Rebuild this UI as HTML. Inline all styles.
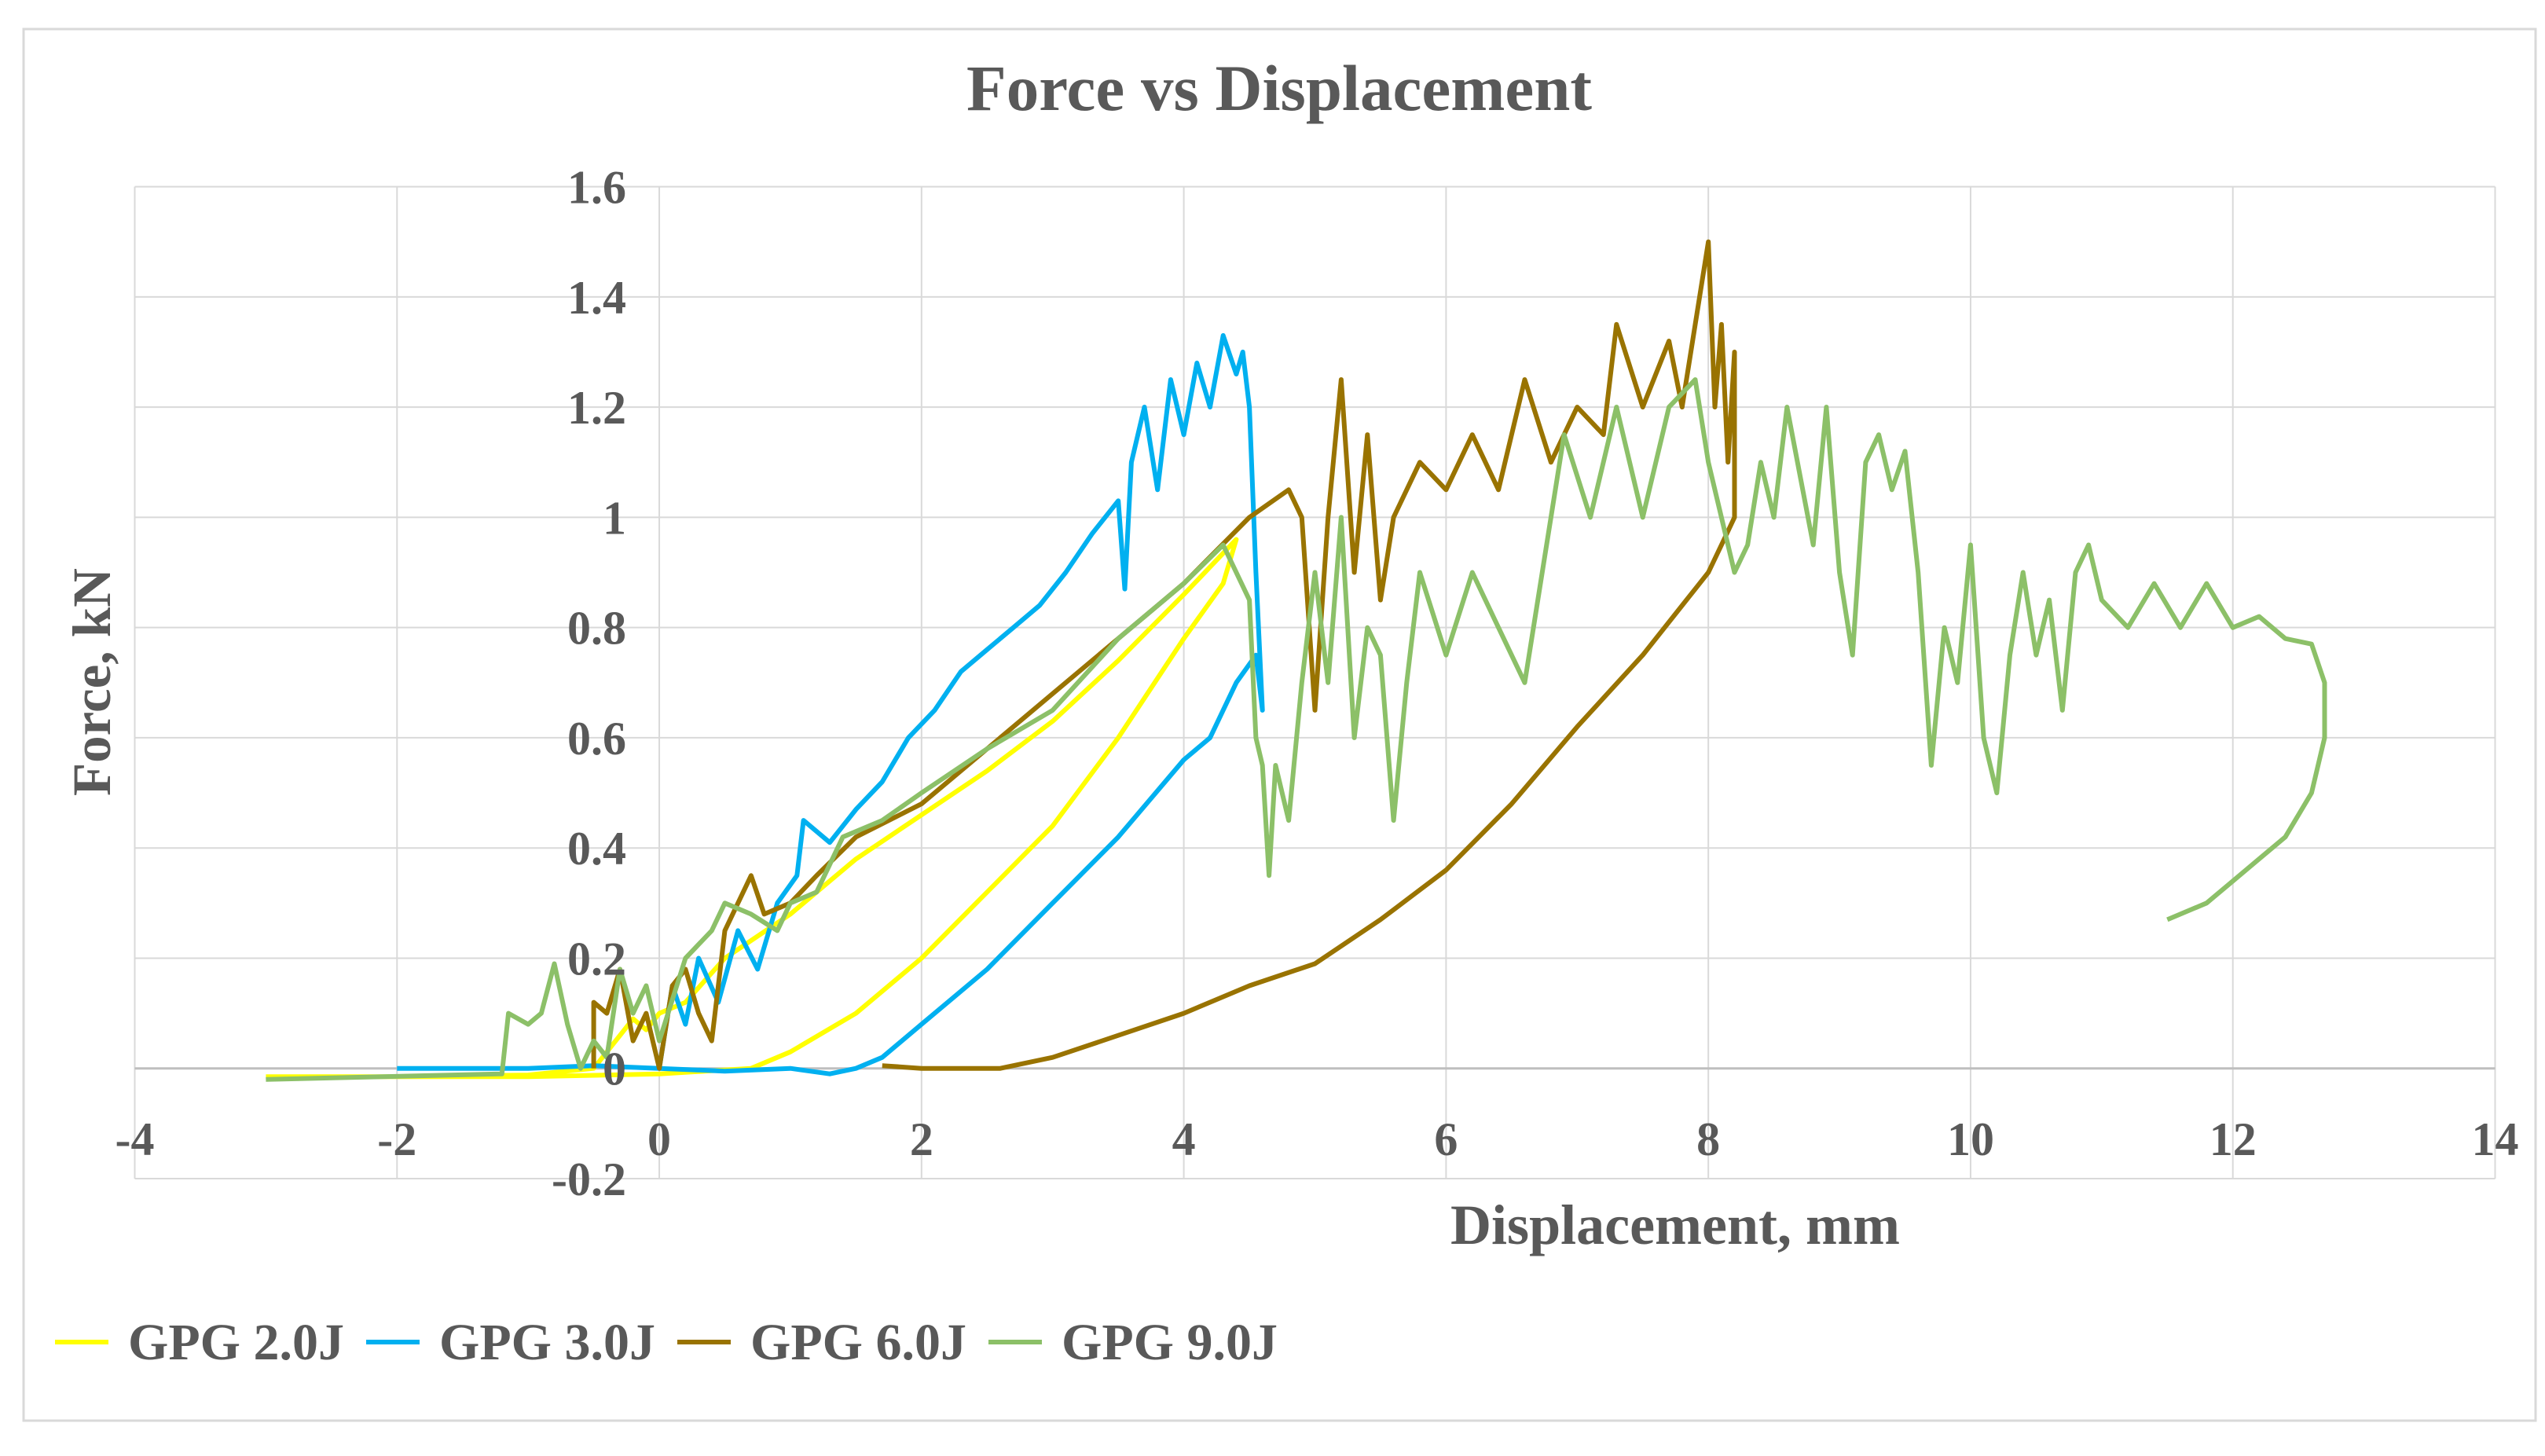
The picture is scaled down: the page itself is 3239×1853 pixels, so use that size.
<!DOCTYPE html>
<html><head><meta charset="utf-8"><style>
body{margin:0;background:#fff;}
svg{display:block;}
text{font-family:"Liberation Serif",serif;fill:#595959;font-weight:bold;}
</style></head><body>
<svg id="chart" width="3239" height="1853" viewBox="0 0 3239 1853" xmlns="http://www.w3.org/2000/svg">
<rect x="0" y="0" width="3239" height="1853" fill="#fff"/>
<rect x="30" y="37" width="3197" height="1771" fill="none" stroke="#d9d9d9" stroke-width="3"/>
<text x="1628" y="140" font-size="83" text-anchor="middle">Force vs Displacement</text>
<g id="grid"></g>
<g id="series"></g>
<g id="ticks"></g>
<text x="2132" y="1583" font-size="72" text-anchor="middle">Displacement, mm</text>
<text x="0" y="0" font-size="69" text-anchor="middle" transform="translate(140,868) rotate(-90)">Force, kN</text>
<g>
<g><line x1="70" y1="1708" x2="138" y2="1708" stroke="#FFFF00" stroke-width="6"/><text x="163" y="1730" font-size="66">GPG 2.0J</text></g>
<g><line x1="466" y1="1708" x2="534" y2="1708" stroke="#00B0F0" stroke-width="6"/><text x="559" y="1730" font-size="66">GPG 3.0J</text></g>
<g><line x1="862" y1="1708" x2="930" y2="1708" stroke="#997300" stroke-width="6"/><text x="955" y="1730" font-size="66">GPG 6.0J</text></g>
<g><line x1="1258" y1="1708" x2="1326" y2="1708" stroke="#8CC068" stroke-width="6"/><text x="1351" y="1730" font-size="66">GPG 9.0J</text></g>
</g>
</svg>
<script>
const xTicks=[-4,-2,0,2,4,6,8,10,12,14];
const yTicks=[-0.2,0,0.2,0.4,0.6,0.8,1,1.2,1.4,1.6];
const yTickLabels=["-0.2","0","0.2","0.4","0.6","0.8","1","1.2","1.4","1.6"];
const g2x=[-3,-2,-1,-0.5,-0.3,-0.2,-0.1,0,0.2,0.5,1,1.5,2,2.5,3,3.5,4,4.4,4.3,4,3.5,3,2.5,2,1.5,1,0.7,0,-1,-2,-3];
const g2y=[-0.015,-0.015,-0.012,0.0,0.06,0.09,0.07,0.1,0.12,0.2,0.28,0.38,0.46,0.54,0.63,0.74,0.86,0.96,0.88,0.78,0.6,0.44,0.32,0.2,0.1,0.03,0.0,-0.01,-0.015,-0.015,-0.015];
const g3x=[-2,-1.5,-1,-0.5,0,0.1,0.2,0.3,0.45,0.6,0.75,0.9,1.05,1.1,1.3,1.5,1.7,1.9,2.1,2.3,2.5,2.7,2.9,3.1,3.3,3.5,3.55,3.6,3.7,3.8,3.9,4.0,4.1,4.2,4.3,4.4,4.45,4.5,4.55,4.6,4.55,4.4,4.2,4.0,3.5,3.0,2.5,2.0,1.7,1.5,1.3,1.0,0.5,0];
const g3y=[0.0,0.0,0.0,0.005,0.0,0.15,0.08,0.2,0.12,0.25,0.18,0.3,0.35,0.45,0.41,0.47,0.52,0.6,0.65,0.72,0.76,0.8,0.84,0.9,0.97,1.03,0.87,1.1,1.2,1.05,1.25,1.15,1.28,1.2,1.33,1.26,1.3,1.2,0.9,0.65,0.75,0.7,0.6,0.56,0.42,0.3,0.18,0.08,0.02,0.0,-0.01,0.0,-0.005,0.0];
const g6x=[-0.5,-0.5,-0.4,-0.3,-0.2,-0.1,0,0.1,0.2,0.3,0.4,0.5,0.7,0.8,1,1.2,1.5,2,2.5,3,3.5,4,4.5,4.8,4.9,5.0,5.1,5.2,5.3,5.4,5.5,5.6,5.8,6,6.2,6.4,6.6,6.8,7,7.2,7.3,7.5,7.7,7.8,7.9,8.0,8.05,8.1,8.15,8.2,8.2,8.1,8.0,7.5,7,6.5,6,5.5,5,4.5,4,3.5,3,2.6,2,1.7];
const g6y=[0.0,0.12,0.1,0.18,0.05,0.1,0.0,0.15,0.18,0.1,0.05,0.25,0.35,0.28,0.3,0.35,0.42,0.48,0.58,0.68,0.78,0.88,1.0,1.05,1.0,0.65,1.0,1.25,0.9,1.15,0.85,1.0,1.1,1.05,1.15,1.05,1.25,1.1,1.2,1.15,1.35,1.2,1.32,1.2,1.35,1.5,1.2,1.35,1.1,1.3,1.0,0.95,0.9,0.75,0.62,0.48,0.36,0.27,0.19,0.15,0.1,0.06,0.02,0.0,0.0,0.005];
const g9x=[-3,-1.2,-1.15,-1.0,-0.9,-0.8,-0.7,-0.6,-0.5,-0.4,-0.3,-0.2,-0.1,0,0.2,0.4,0.5,0.7,0.9,1.0,1.2,1.4,1.7,2,2.5,3,3.5,4,4.3,4.5,4.55,4.6,4.65,4.7,4.8,4.9,5.0,5.1,5.2,5.3,5.4,5.5,5.6,5.7,5.8,6,6.2,6.4,6.6,6.7,6.9,7.1,7.3,7.5,7.7,7.9,8.0,8.2,8.3,8.4,8.5,8.6,8.8,8.9,9.0,9.1,9.2,9.3,9.4,9.5,9.6,9.7,9.8,9.9,10,10.1,10.2,10.3,10.4,10.5,10.6,10.7,10.8,10.9,11,11.2,11.4,11.6,11.8,12,12.2,12.4,12.6,12.7,12.7,12.6,12.4,12.2,12,11.8,11.5];
const g9y=[-0.02,-0.01,0.1,0.08,0.1,0.19,0.08,0.0,0.05,0.02,0.18,0.1,0.15,0.05,0.2,0.25,0.3,0.28,0.25,0.3,0.32,0.42,0.45,0.5,0.58,0.65,0.78,0.88,0.95,0.85,0.6,0.55,0.35,0.55,0.45,0.7,0.9,0.7,1.0,0.6,0.8,0.75,0.45,0.7,0.9,0.75,0.9,0.8,0.7,0.85,1.15,1.0,1.2,1.0,1.2,1.25,1.1,0.9,0.95,1.1,1.0,1.2,0.95,1.2,0.9,0.75,1.1,1.15,1.05,1.12,0.9,0.55,0.8,0.7,0.95,0.6,0.5,0.75,0.9,0.75,0.85,0.65,0.9,0.95,0.85,0.8,0.88,0.8,0.88,0.8,0.82,0.78,0.77,0.7,0.6,0.5,0.42,0.38,0.34,0.3,0.27];

const X0=171.5,XW=3175.5-171.5,Y0=1500,YH=1500-237.6;
function sx(v){return X0+(v+4)/18*XW;}
function sy(v){return Y0-(v+0.2)/1.8*YH;}
const NS="http://www.w3.org/2000/svg";
const grid=document.getElementById('grid'),ticks=document.getElementById('ticks'),ser=document.getElementById('series');
xTicks.forEach(function(t){
  const l=document.createElementNS(NS,'line');
  l.setAttribute('x1',sx(t));l.setAttribute('x2',sx(t));l.setAttribute('y1',sy(1.6));l.setAttribute('y2',sy(-0.2));
  l.setAttribute('stroke','#d9d9d9');l.setAttribute('stroke-width',2);
  
  
  grid.appendChild(l);
  const tx=document.createElementNS(NS,'text');
  tx.setAttribute('x',sx(t));tx.setAttribute('y',1470);tx.setAttribute('font-size',60);tx.setAttribute('text-anchor','middle');
  tx.textContent=String(t);
  
  
  ticks.appendChild(tx);
});
yTicks.forEach(function(t,i){
  const l=document.createElementNS(NS,'line');
  l.setAttribute('x1',sx(-4));l.setAttribute('x2',sx(14));l.setAttribute('y1',sy(t));l.setAttribute('y2',sy(t));
  l.setAttribute('stroke',t===0?'#bfbfbf':'#d9d9d9');l.setAttribute('stroke-width',t===0?3:2);
  
  
  grid.appendChild(l);
  const tx=document.createElementNS(NS,'text');
  tx.setAttribute('x',797);tx.setAttribute('y',sy(t)+21);tx.setAttribute('font-size',60);tx.setAttribute('text-anchor','end');
  tx.textContent=yTickLabels[i];
  
  
  ticks.appendChild(tx);
});
function addLine(xs,ys,color,name){
  const p=document.createElementNS(NS,'polyline');
  p.setAttribute('points',xs.map(function(x,i){return sx(x).toFixed(1)+','+sy(ys[i]).toFixed(1);}).join(' '));
  p.setAttribute('fill','none');p.setAttribute('stroke',color);p.setAttribute('stroke-width',6);p.setAttribute('stroke-linejoin','round');
  
  
  ser.appendChild(p);
}
addLine(g2x,g2y,'#FFFF00','series-gpg-2j');
addLine(g3x,g3y,'#00B0F0','series-gpg-3j');
addLine(g6x,g6y,'#997300','series-gpg-6j');
addLine(g9x,g9y,'#8CC068','series-gpg-9j');
</script>
</body></html>
